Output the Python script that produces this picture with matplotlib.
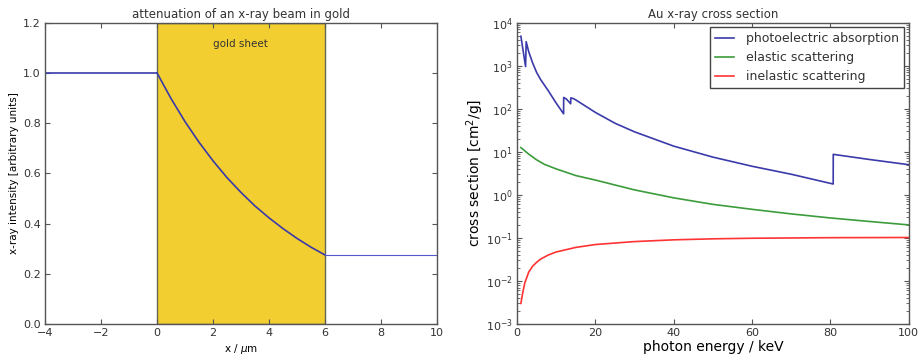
import numpy as np
import matplotlib
matplotlib.use('Agg')
import matplotlib.pyplot as plt

# --- left panel: beam intensity through a 6 um gold sheet ---
x_before = [-4.0, 0.0]
i_before = [1.0, 1.0]
x_sheet = [0.0, 0.5, 1.0, 1.5, 2.0, 2.5, 3.0, 3.5, 4.0, 4.5, 5.0, 5.5, 6.0]
i_sheet = [1.0, 0.898, 0.806, 0.724, 0.650, 0.583, 0.524, 0.470, 0.423, 0.380, 0.341, 0.306, 0.275]
x_after = [6.0, 10.0]
i_after = [0.275, 0.275]
sheet_start, sheet_end = 0.0, 6.0

# --- right panel: Au cross sections (cm^2/g) ---
e_photo = [1.0, 2.2, 2.35, 3.0, 4.0, 5.0, 6.0, 8.0, 10.0, 11.9, 11.92, 12.6, 13.7, 13.74,
           14.35, 15.0, 20.0, 25.0, 30.0, 40.0, 50.0, 60.0, 70.0, 80.7, 80.72, 90.0, 100.0]
photo = [4800, 950, 3600, 2100, 1150, 700, 480, 260, 135, 76, 182, 168, 130, 178,
         172, 160, 82, 46, 29, 13.5, 7.5, 4.6, 3.0, 1.78, 8.7, 6.6, 5.0]
e_el = [1, 2, 3, 5, 7, 10, 15, 20, 30, 40, 50, 60, 70, 80, 90, 100]
elastic = [12.5, 10.5, 8.8, 6.5, 5.1, 4.0, 2.8, 2.2, 1.3, 0.85, 0.6, 0.46, 0.36, 0.29, 0.24, 0.2]
e_inel = [1, 1.5, 2, 3, 4, 5, 6, 8, 10, 15, 20, 30, 40, 50, 60, 80, 100]
inelastic = [0.003, 0.0055, 0.009, 0.016, 0.022, 0.027, 0.032, 0.040, 0.047, 0.060, 0.070,
             0.082, 0.090, 0.095, 0.098, 0.101, 0.102]

BLUE, GREEN, RED = '#3a3aaa', '#3c9c3c', '#ff3333'
GOLD = '#f2ce30'
TXT = '#333333'

plt.rcParams.update({'font.family': 'DejaVu Sans', 'text.color': TXT,
                     'axes.edgecolor': '#555555', 'xtick.color': '#555555', 'ytick.color': '#555555',
                     'xtick.labelcolor': TXT, 'ytick.labelcolor': TXT})

fig = plt.figure(figsize=(9.22, 3.58), dpi=100)
ax1 = fig.add_axes([0.0488, 0.095, 0.425, 0.842])
ax2 = fig.add_axes([0.5607, 0.095, 0.425, 0.842])

ax = ax1
ax.axvspan(sheet_start, sheet_end, facecolor=GOLD, edgecolor='#666655', lw=1)
ax.plot(x_before, i_before, color=BLUE, lw=1.2)
ax.plot(x_sheet, i_sheet, color=BLUE, lw=1.2)
ax.plot(x_after, i_after, color='#5555cc', lw=0.8)
ax.text(3, 1.115, 'gold sheet', ha='center', va='center', fontsize=7.5)
ax.set_xlim(-4, 10)
ax.set_ylim(0, 1.2)
ax.set_xticks(range(-4, 11, 2))
ax.set_yticks(np.arange(0, 1.21, 0.2))
ax.set_title('attenuation of an x-ray beam in gold', fontsize=8.5, pad=3)
ax.set_xlabel(r'x / $\mu$m', fontsize=7.5, labelpad=3)
ax.set_ylabel('x-ray intensity [arbitrary units]', fontsize=7.5, labelpad=3)

ax = ax2
ax.plot(e_photo, photo, color=BLUE, lw=1.2, label='photoelectric absorption')
ax.plot(e_el, elastic, color=GREEN, lw=1.2, label='elastic scattering')
ax.plot(e_inel, inelastic, color=RED, lw=1.2, label='inelastic scattering')
ax.set_yscale('log')
ax.set_xlim(0, 100)
ax.set_ylim(1e-3, 1e4)
ax.set_title('Au x-ray cross section', fontsize=8.5, pad=3)
ax.set_xlabel('photon energy / keV', fontsize=10, labelpad=1)
ax.set_ylabel(r'cross section [cm$^2$/g]', fontsize=10, labelpad=0)
leg = ax.legend(loc='upper right', fontsize=9, fancybox=False, framealpha=1,
                edgecolor='#444444', borderaxespad=0.35, handlelength=1.5, handletextpad=1.0)
leg.get_frame().set_linewidth(1)

for ax in (ax1, ax2):
    ax.tick_params(direction='in', top=True, right=True, labelsize=8, pad=3)
    ax.tick_params(which='minor', direction='in', top=True, right=True)
    for s in ax.spines.values():
        s.set_linewidth(1)

fig.savefig('out.png', dpi=100)
